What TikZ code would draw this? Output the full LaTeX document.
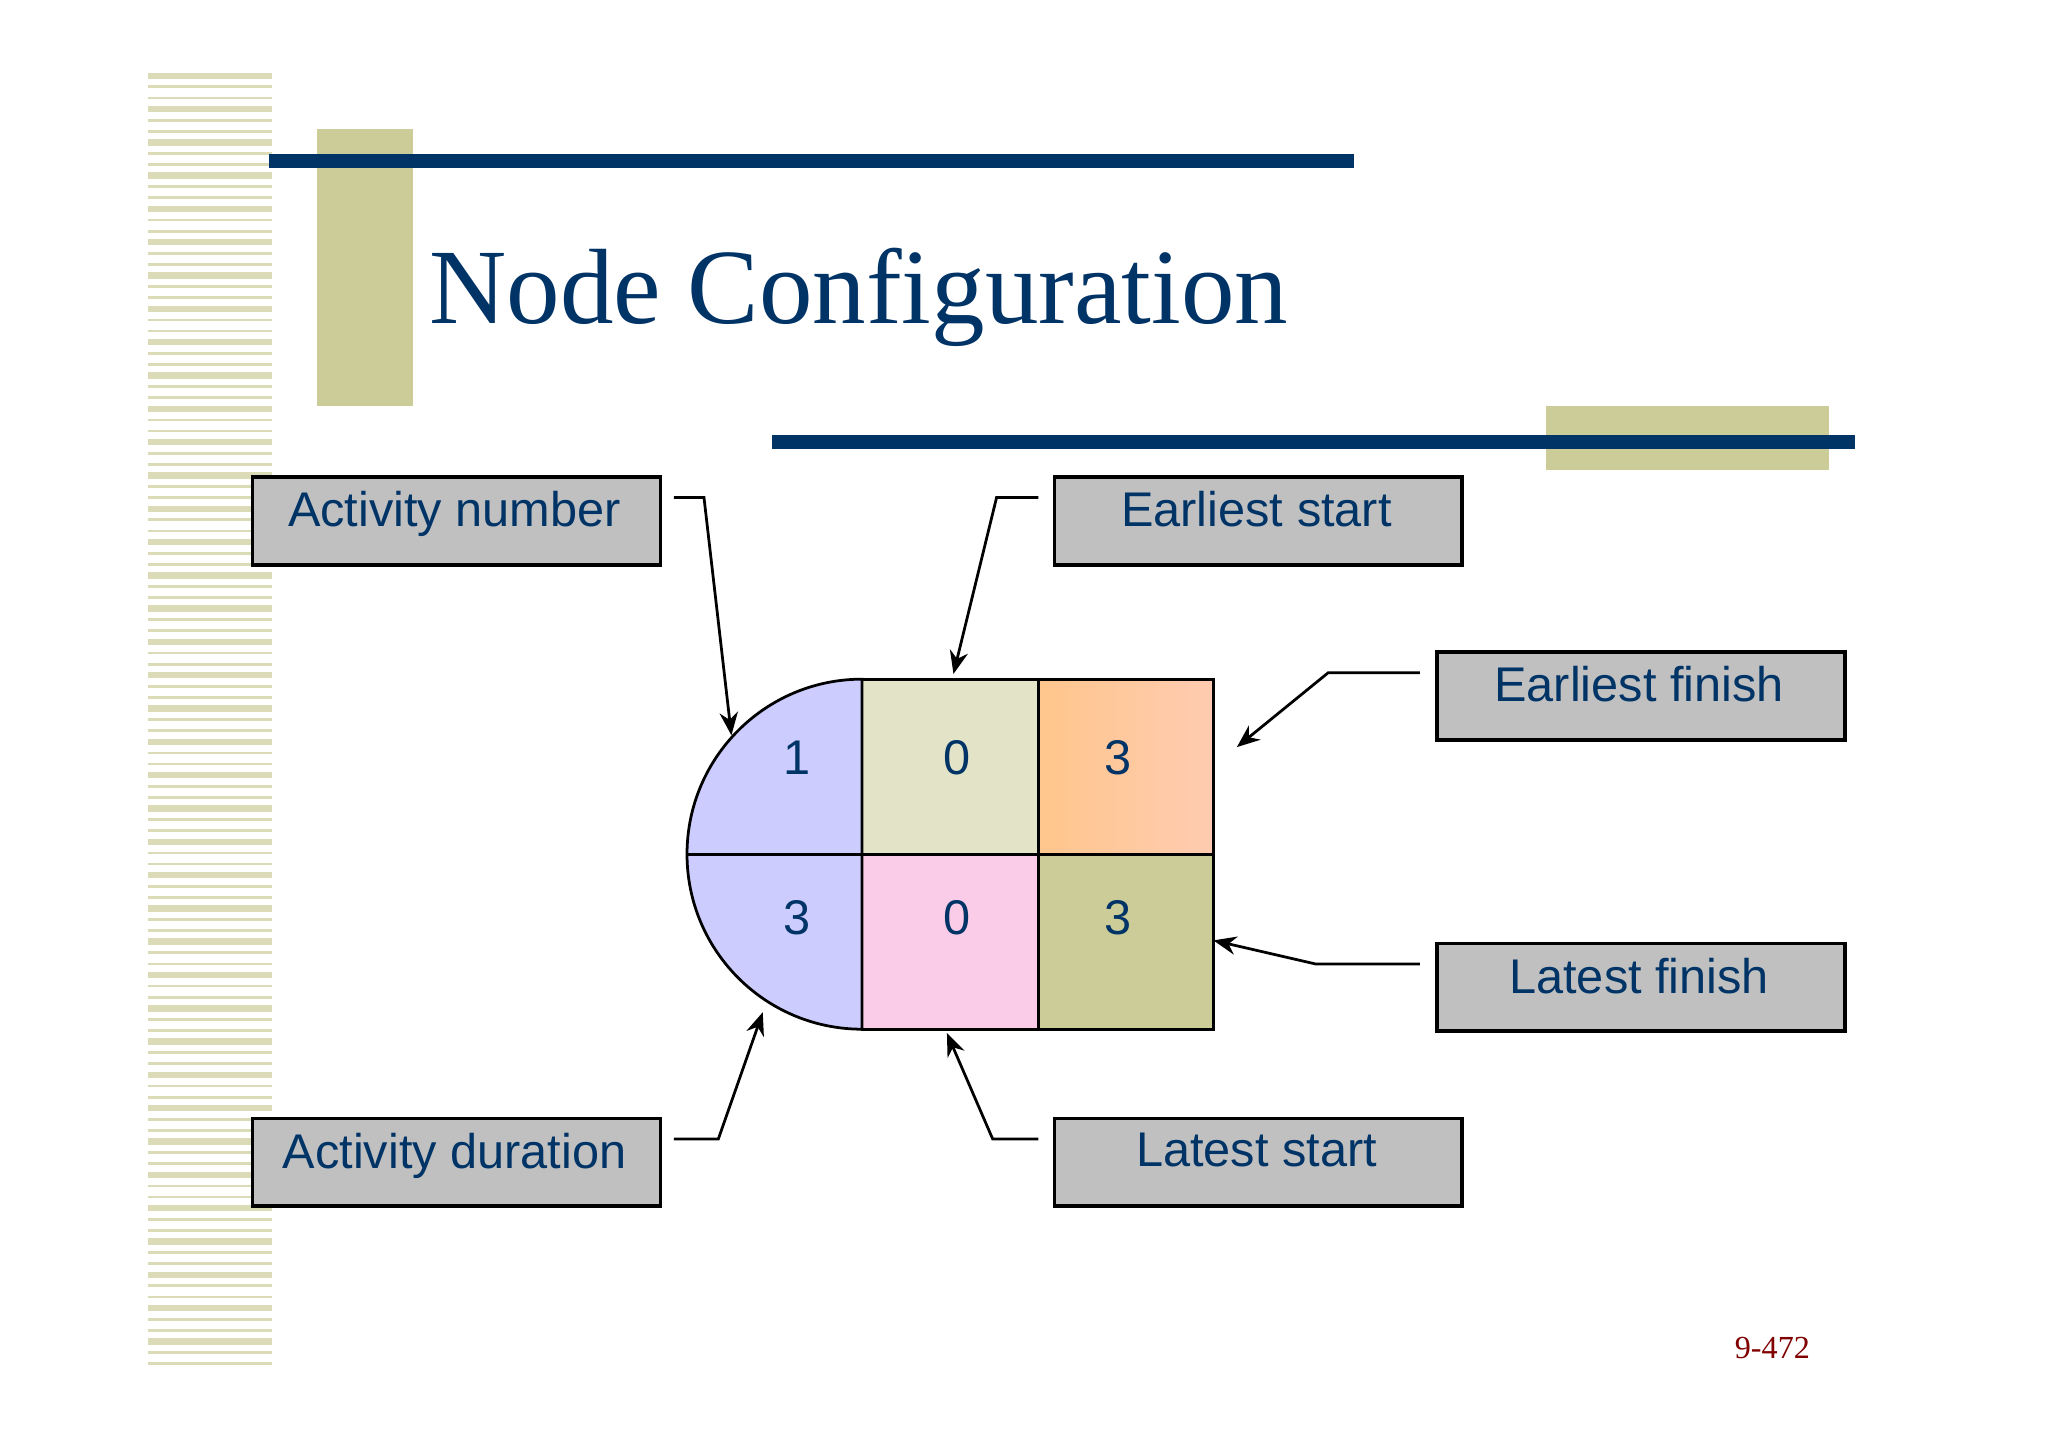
\documentclass[tikz,border=0pt]{standalone}
\usepackage{fontspec}
\setmainfont{Liberation Serif}
\newfontfamily\sansf{Liberation Sans}
\usetikzlibrary{arrows.meta}
\definecolor{navy}{HTML}{003366}
\definecolor{olive}{HTML}{CCCC99}
\definecolor{lblgray}{HTML}{C0C0C0}
\begin{document}
\begin{tikzpicture}[x=0.01cm,y=-0.01cm,
  lbl/.style={draw=black,line width=0.8pt,fill=lblgray,minimum width=3.12cm,minimum height=0.67cm,anchor=north west},
  lbltxt/.style={font=\sansf\fontsize{10.6pt}{12pt}\selectfont,text=navy,anchor=north},
  num/.style={font=\sansf\fontsize{10.6pt}{12pt}\selectfont,text=navy},
  conn/.style={line width=0.6pt,-{Stealth[length=5pt,width=4pt]}}]
\useasboundingbox (0,0) rectangle (1568,1107);
\fill[white] (0,0) rectangle (1568,1107);
% left stripes
\foreach \i in {0,...,116}{
  \pgfmathsetmacro\yy{58+\i*8.5}
  \pgfmathsetmacro\w{mod(\i,3)==0 ? 1.4 : 0.6}
  \draw[olive!70,line width=\w pt] (113,\yy) -- (208,\yy);
}
\fill[olive] (243,99) rectangle (316,311);
\fill[navy] (206,118) rectangle (1037,129);
\node[anchor=base west,inner sep=0,text=navy,font=\fontsize{23.3pt}{27pt}\selectfont] (title) at (328,248) {Node Configuration};
\fill[olive] (1184,311) rectangle (1400,360);
\fill[navy] (591,333) rectangle (1420,344);
% main node
\fill[fill=olive!55] (660,520) rectangle (795,654);
\shade[left color=orange!45,right color=orange!35!pink!60] (795,520) rectangle (929,654);
\fill[fill=magenta!20] (660,654) rectangle (795,788);
\fill[fill=olive] (795,654) rectangle (929,788);
\filldraw[fill=blue!20,draw=black,line width=0.6pt] (660,520) arc[start angle=-90,end angle=-270,radius=134] -- cycle;
\draw[line width=0.6pt] (526,654) -- (929,654) (660,520) rectangle (929,788) (795,520) -- (795,788);
\node[num] (n1) at (610,580) {1};
\node[num] (n2) at (733,580) {0};
\node[num] (n3) at (856,580) {3};
\node[num] (n4) at (610,703) {3};
\node[num] (n5) at (733,703) {0};
\node[num] (n6) at (856,703) {3};
% labels
\node[lbl] (an) at (192,364) {}; \node[lbltxt] at (348,364) {Activity number};
\node[lbl] (es) at (806,364) {}; \node[lbltxt] at (962,364) {Earliest start};
\node[lbl] (ef) at (1099,498) {}; \node[lbltxt] at (1255,498) {Earliest finish};
\node[lbl] (lf) at (1099,721) {}; \node[lbltxt] at (1255,721) {Latest finish};
\node[lbl] (ad) at (192,855) {}; \node[lbltxt] at (348,855) {Activity duration};
\node[lbl] (ls) at (806,855) {}; \node[lbltxt] at (962,855) {Latest start};
% connectors
\coordinate (a1) at (516,381); \coordinate (a2) at (539,381); \coordinate (a3) at (560,563);
\coordinate (b1) at (795,381); \coordinate (b2) at (763,381); \coordinate (b3) at (730,516);
\coordinate (c1) at (1087,515); \coordinate (c2) at (1017,515); \coordinate (c3) at (947,572);
\coordinate (d1) at (1087,738); \coordinate (d2) at (1007,738); \coordinate (d3) at (929,720);
\coordinate (e1) at (516,872); \coordinate (e2) at (550,872); \coordinate (e3) at (584,775);
\coordinate (f1) at (795,872); \coordinate (f2) at (760,872); \coordinate (f3) at (725,791);
\draw[conn] (a1) -- (a2) -- (a3);
\draw[conn] (b1) -- (b2) -- (b3);
\draw[conn] (c1) -- (c2) -- (c3);
\draw[conn] (d1) -- (d2) -- (d3);
\draw[conn] (e1) -- (e2) -- (e3);
\draw[conn] (f1) -- (f2) -- (f3);
\node[anchor=base,text=red!50!black,font=\fontsize{7pt}{8pt}\selectfont] (pg) at (1357,1040) {9-472};
\end{tikzpicture}
\end{document}
